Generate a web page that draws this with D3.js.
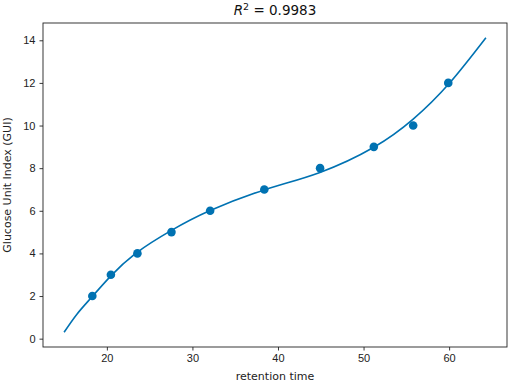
<!DOCTYPE html>
<html>
<head>
<meta charset="utf-8">
<script src="https://cdnjs.cloudflare.com/ajax/libs/d3/7.8.5/d3.min.js"></script>
<style>
  body { margin: 0; background: #fff; }
  svg { font-family: "DejaVu Sans", sans-serif; }
  .axis text { font-size: 11px; fill: #222; }
  .axis path, .axis line { stroke: #222; stroke-width: 0.9; }
</style>
</head>
<body>
<div id="chart"></div>
<script>
// measured points: retention time vs glucose unit index
var retentionTime = [18.3, 20.47, 23.57, 27.55, 32.07, 38.4, 44.92, 51.2, 55.8, 59.9];
var gui = [2, 3, 4, 5, 6, 7, 8, 9, 10, 12];

// fitted curve
var fitTime = [15, 16.5, 18.3, 20.5, 23.5, 27.5, 32, 38.4, 44.9, 51.2, 55.8, 60, 64.3];
var fitGui  = [0.3, 1.15, 1.98, 2.96, 4.04, 5.07, 6.0, 6.98, 7.8, 8.98, 10.3, 11.97, 14.12];

var xTicks = [20, 30, 40, 50, 60];
var yTicks = [0, 2, 4, 6, 8, 10, 12, 14];
var rSquared = "0.9983";

var margin = {top: 23, right: 5, bottom: 36, left: 43},
    width  = 512 - margin.left - margin.right,
    height = 383 - margin.top - margin.bottom;

var color = "#0072B2";

var points = retentionTime.map(function (t, i) { return {t: t, g: gui[i]}; });
var fit = fitTime.map(function (t, i) { return {t: t, g: fitGui[i]}; });

// matplotlib style 5% padding around the data
var xExt = d3.extent(fitTime.concat(retentionTime)),
    yExt = d3.extent(fitGui.concat(gui));
var xPad = (xExt[1] - xExt[0]) * 0.05,
    yPad = (yExt[1] - yExt[0]) * 0.05;

var xScale = d3.scaleLinear()
  .domain([xExt[0] - xPad, xExt[1] + xPad])
  .range([0, width]);

var yScale = d3.scaleLinear()
  .domain([yExt[0] - yPad, yExt[1] + yPad])
  .range([height, 0]);

var svg = d3.select("#chart")
  .append("svg")
  .attr("width", 512)
  .attr("height", 383)
  .append("g")
  .attr("transform", "translate(" + margin.left + "," + margin.top + ")");

//X axis
svg.append("g")
  .attr("class", "axis")
  .attr("transform", "translate(0," + height + ")")
  .call(d3.axisBottom(xScale).tickValues(xTicks).tickSize(3.5).tickPadding(4).tickSizeOuter(0))
  .select(".domain").remove();

//Y axis
svg.append("g")
  .attr("class", "axis")
  .call(d3.axisLeft(yScale).tickValues(yTicks).tickSize(3.5).tickPadding(4).tickSizeOuter(0))
  .select(".domain").remove();

//frame
svg.append("rect")
  .attr("width", width)
  .attr("height", height)
  .attr("fill", "none")
  .attr("stroke", "#222")
  .attr("stroke-width", 0.9);

//fitted line
var line = d3.line()
  .x(function (d) { return xScale(d.t); })
  .y(function (d) { return yScale(d.g); })
  .curve(d3.curveNatural);

svg.append("path")
  .attr("d", line(fit))
  .attr("fill", "none")
  .attr("stroke", color)
  .attr("stroke-width", 1.6);

//points
svg.selectAll(".dot")
  .data(points)
  .enter().append("circle")
  .attr("class", "dot")
  .attr("r", 4.3)
  .attr("cx", function (d) { return xScale(d.t); })
  .attr("cy", function (d) { return yScale(d.g); })
  .attr("fill", color);

//title
var title = svg.append("text")
  .attr("x", width / 2)
  .attr("y", -8)
  .attr("text-anchor", "middle")
  .style("font-size", "13.5px")
  .attr("fill", "#111");
title.append("tspan").style("font-style", "italic").text("R");
title.append("tspan").attr("dy", -5).style("font-size", "9.5px").text("2");
title.append("tspan").attr("dy", 5).text(" = " + rSquared);

//axis labels
svg.append("text")
  .attr("x", width / 2)
  .attr("y", height + 33)
  .attr("text-anchor", "middle")
  .style("font-size", "11px")
  .attr("fill", "#222")
  .text("retention time");

svg.append("text")
  .attr("transform", "rotate(-90)")
  .attr("x", -height / 2)
  .attr("y", -32)
  .attr("text-anchor", "middle")
  .style("font-size", "11px")
  .attr("fill", "#222")
  .text("Glucose Unit Index (GUI)");
</script>
</body>
</html>
